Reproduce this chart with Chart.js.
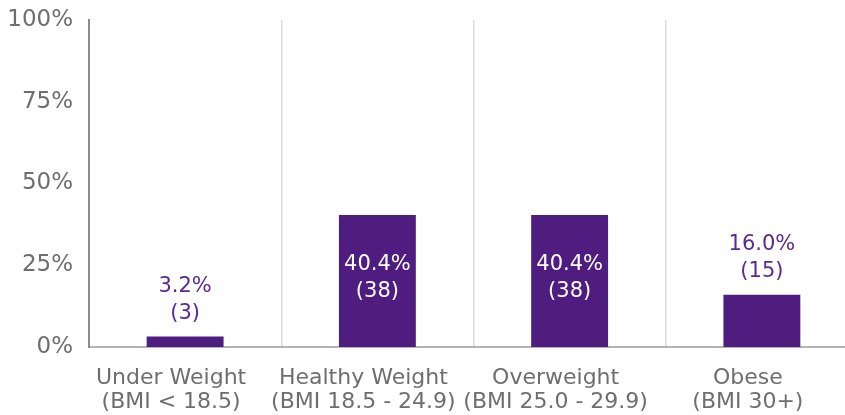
<!DOCTYPE html>
<html>
<head>
<meta charset="utf-8">
<script src="https://cdn.jsdelivr.net/npm/chart.js@4"></script>
<style>
html,body{margin:0;padding:0;background:#fff;overflow:hidden;}
#wrap{position:absolute;left:0;top:0;width:860px;height:415px;}
</style>
</head>
<body>
<div id="wrap"><canvas id="c" width="860" height="415"></canvas></div>
<script>
const categories = [
  ["Under Weight", "(BMI < 18.5)"],
  ["Healthy Weight", "(BMI 18.5 - 24.9)"],
  ["Overweight", "(BMI 25.0 - 29.9)"],
  ["Obese", "(BMI 30+)"]
];
const percents = [3.2, 40.4, 40.4, 16.0];
const counts = [3, 38, 38, 15];
const yTicks = [0, 25, 50, 75, 100];

const FONT = "'DejaVu Sans', sans-serif";
const BAR = "#4f1c7f";

const labelPlugin = {
  id: 'barLabels',
  afterDatasetsDraw(chart) {
    const ctx = chart.ctx;
    const meta = chart.getDatasetMeta(0);
    ctx.save();
    ctx.font = "21px " + FONT;
    ctx.textAlign = 'center';
    ctx.textBaseline = 'middle';
    meta.data.forEach((bar, i) => {
      const l1 = percents[i].toFixed(1) + '%';
      const l2 = '(' + counts[i] + ')';
      const h = bar.base - bar.y;
      if (h > 70) {
        const mid = (bar.y + bar.base) / 2;
        ctx.fillStyle = '#ffffff';
        ctx.fillText(l1, bar.x, mid - 16);
        ctx.fillText(l2, bar.x, mid + 11);
      } else {
        ctx.fillStyle = '#5a2a8e';
        ctx.fillText(l1, bar.x, bar.y - 50);
        ctx.fillText(l2, bar.x, bar.y - 23);
      }
    });
    ctx.restore();
  }
};

new Chart(document.getElementById('c'), {
  type: 'bar',
  data: {
    labels: categories,
    datasets: [{
      data: percents,
      backgroundColor: BAR,
      borderWidth: 0,
      barPercentage: 0.4,
      categoryPercentage: 1.0
    }]
  },
  options: {
    responsive: false,
    animation: false,
    events: [],
    layout: { padding: { top: 20, right: 2, left: 0, bottom: 0 } },
    plugins: { legend: { display: false }, tooltip: { enabled: false } },
    scales: {
      x: {
        offset: true,
        grid: { display: true, offset: true, color: '#dcdcdc', lineWidth: 1.5, drawTicks: false },
        border: { display: true, color: '#b3b3b3', width: 2 },
        ticks: { color: '#6e6e6e', font: { family: FONT, size: 22, lineHeight: 1.1 }, padding: 19, labelOffset: -14, maxRotation: 0, autoSkip: false },
        afterFit: s => { s.height = 68; }
      },
      y: {
        min: 0, max: 100,
        afterBuildTicks: s => { s.ticks = yTicks.map(v => ({ value: v })); },
        grid: { display: false, drawTicks: false },
        border: { display: true, color: '#8c8c8c', width: 2 },
        ticks: { color: '#6e6e6e', font: { family: FONT, size: 23 }, padding: 16, callback: v => v + '%' },
        afterFit: s => { s.width = 89; s.paddingTop = 0; }
      }
    }
  },
  plugins: [labelPlugin]
});
</script>
</body>
</html>
